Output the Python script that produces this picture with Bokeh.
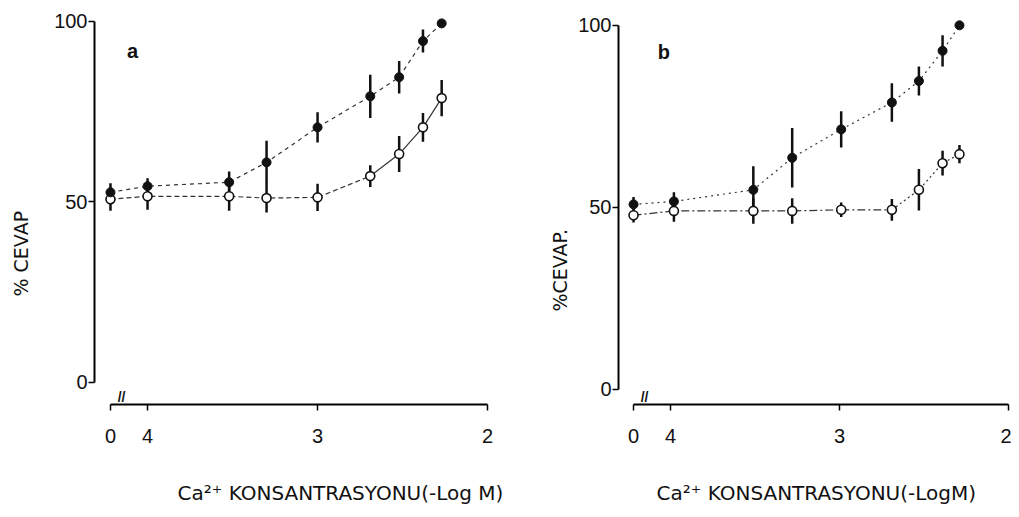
from bokeh.plotting import figure
from bokeh.models import Range1d, FixedTicker, CustomJSTickFormatter, Label, Title, LinearAxis
from bokeh.layouts import row
from bokeh.embed import file_html
from bokeh.resources import INLINE

FONT = "Liberation Sans"
TFONT = "DejaVu Sans"

# ---- data (Ca2+ concentration as -log M; 0 = control, no Ca2+) ----
A_CONC = [0, 4.0, 3.52, 3.30, 3.0, 2.69, 2.52, 2.38, 2.27]
A_FILLED = [52.6, 54.3, 55.4, 60.9, 70.6, 79.2, 84.5, 94.5, 99.4]
A_FILLED_ERR = [2.5, 2.2, 3.0, 6.0, 4.2, 6.0, 4.5, 3.2, 0]
A_OPEN = [50.7, 51.5, 51.5, 51.0, 51.2, 57.1, 63.2, 70.6, 78.7]
A_OPEN_ERR = [3.2, 3.7, 4.0, 4.0, 3.8, 3.0, 5.0, 4.0, 5.0]

B_CONC = [0, 3.98, 3.51, 3.28, 2.99, 2.69, 2.53, 2.39, 2.29]
B_FILLED = [50.8, 51.6, 54.8, 63.6, 71.4, 78.8, 84.7, 93.0, 100.0]
B_FILLED_ERR = [2.0, 2.5, 6.5, 8.2, 5.0, 5.3, 4.0, 4.3, 0]
B_OPEN = [47.8, 49.0, 49.0, 49.0, 49.3, 49.3, 54.8, 62.1, 64.6]
B_OPEN_ERR = [2.0, 3.0, 3.5, 3.5, 2.0, 3.0, 5.7, 3.4, 2.5]

X_TICKS = [4, 3, 2]
Y_TICKS = [0, 50, 100]
PANEL_LABELS = ["a", "b"]
Y_TITLES = ["% CEVAP", "%CEVAP."]
X_TITLES = ["Ca²⁺ KONSANTRASYONU(-Log M)", "Ca²⁺ KONSANTRASYONU(-LogM)"]


def spacer_axis(size, tick_at):
    # invisible axis (one white tick, no label) that only reserves space
    return LinearAxis(ticker=FixedTicker(ticks=[tick_at]), axis_line_color=None,
                      major_tick_line_color="white", major_tick_line_width=1,
                      minor_tick_line_color=None,
                      major_tick_in=0, major_tick_out=size,
                      major_label_standoff=0,
                      formatter=CustomJSTickFormatter(code="return '';"))


def make_panel(conc, filled, ferr, opn, oerr, ctrl, xr, yr, width, border_left,
               border_right, panel_label, lab_pos, y_title, ytitle_offset, ytitle_space,
               x_title, xtitle_offset, open_dash_split, open_dash1, open_dash2, filled_dash):
    p = figure(width=width, height=508, output_backend="svg", toolbar_location=None,
               x_range=Range1d(*xr), y_range=Range1d(*yr),
               min_border_left=border_left, min_border_right=border_right,
               min_border_top=7, min_border_bottom=104)
    p.outline_line_color = None
    p.xgrid.visible = False
    p.ygrid.visible = False
    p.background_fill_color = "white"

    xs = [ctrl if c == 0 else c for c in conc]

    # y axis
    p.yaxis.ticker = FixedTicker(ticks=Y_TICKS)
    p.yaxis.bounds = (0, 100)
    p.yaxis.minor_tick_line_color = None
    p.yaxis.major_tick_in = 0
    p.yaxis.major_tick_out = 6
    p.yaxis.major_label_standoff = 1
    p.yaxis.axis_line_width = 2
    p.yaxis.major_tick_line_width = 1.5
    p.yaxis.major_label_text_font = FONT
    p.yaxis.major_label_text_font_size = "20px"
    p.yaxis.major_label_text_color = "#111"

    # x axis
    p.xaxis.ticker = FixedTicker(ticks=[ctrl] + X_TICKS)
    p.xaxis.formatter = CustomJSTickFormatter(
        code="return tick > 4.1 ? '0' : tick.toFixed(0);")
    p.xaxis.bounds = (ctrl, 2)
    p.xaxis.minor_tick_line_color = None
    p.xaxis.major_tick_in = 0
    p.xaxis.major_tick_out = 6
    p.xaxis.major_label_standoff = 18
    p.xaxis.axis_line_width = 1.8
    p.xaxis.major_tick_line_width = 1.5
    p.xaxis.major_label_text_font = FONT
    p.xaxis.major_label_text_font_size = "20px"
    p.xaxis.major_label_text_color = "#111"

    # lines
    p.line(xs, filled, line_color="#333", line_width=1.2, line_dash=filled_dash)
    k = open_dash_split
    p.line(xs[:k + 1], opn[:k + 1], line_color="#333", line_width=1.2, line_dash=open_dash1)
    p.line(xs[k:], opn[k:], line_color="#333", line_width=1.2, line_dash=open_dash2)

    # error bars
    p.segment(xs, [v - e for v, e in zip(filled, ferr)], xs, [v + e for v, e in zip(filled, ferr)],
              line_color="#111", line_width=2.5)
    p.segment(xs, [v - e for v, e in zip(opn, oerr)], xs, [v + e for v, e in zip(opn, oerr)],
              line_color="#111", line_width=2.5)

    # markers
    p.scatter(xs, opn, size=9, marker="circle", fill_color="white", line_color="#111", line_width=1.6)
    p.scatter(xs, filled, size=9, marker="circle", fill_color="#111", line_color="#111")

    # axis break mark
    p.add_layout(Label(x=ctrl - 0.065, y=yr[0], text="//", text_font=FONT, text_font_size="14px",
                       text_font_style="bold", text_align="center", text_baseline="bottom",
                       text_color="#111"))
    # panel label
    p.add_layout(Label(x=lab_pos[0], y=lab_pos[1], text=panel_label, text_font=FONT,
                       text_font_size="20px", text_font_style="bold", text_align="center",
                       text_baseline="middle", text_color="#111"))
    # axis titles (spacers position them like the reference)
    p.add_layout(spacer_axis(ytitle_space, yr[0] + 1), "left")
    p.add_layout(Title(text=y_title, align="left", offset=ytitle_offset, standoff=0,
                       text_font=TFONT, text_font_size="19px", text_font_style="normal",
                       text_color="#111"), "left")
    p.add_layout(spacer_axis(33, ctrl), "below")
    p.add_layout(Title(text=x_title, align="left", offset=xtitle_offset, standoff=0,
                       text_font=TFONT, text_font_size="20px", text_font_style="normal",
                       text_color="#111"), "below")
    return p


pa = make_panel(A_CONC, A_FILLED, A_FILLED_ERR, A_OPEN, A_OPEN_ERR,
                ctrl=4.218, xr=(4.312, 1.924), yr=(-6.18, 103.8), width=530,
                border_left=94, border_right=30, panel_label=PANEL_LABELS[0],
                lab_pos=(4.088, 91.7), y_title=Y_TITLES[0], ytitle_offset=108, ytitle_space=20,
                x_title=X_TITLES[0], xtitle_offset=83,
                open_dash_split=5, open_dash1="5 3", open_dash2="solid", filled_dash="4 4")

pb = make_panel(B_CONC, B_FILLED, B_FILLED_ERR, B_OPEN, B_OPEN_ERR,
                ctrl=4.219, xr=(4.308, 1.982), yr=(-4.2, 104.9), width=481,
                border_left=88, border_right=0, panel_label=PANEL_LABELS[1],
                lab_pos=(4.04, 92.6), y_title=Y_TITLES[1], ytitle_offset=93, ytitle_space=5,
                x_title=X_TITLES[1], xtitle_offset=38,
                open_dash_split=5, open_dash1="8 3 2 3", open_dash2="2 3", filled_dash="2 4")

layout = row(pa, pb)
open("out.html", "w").write(file_html(layout, INLINE))
